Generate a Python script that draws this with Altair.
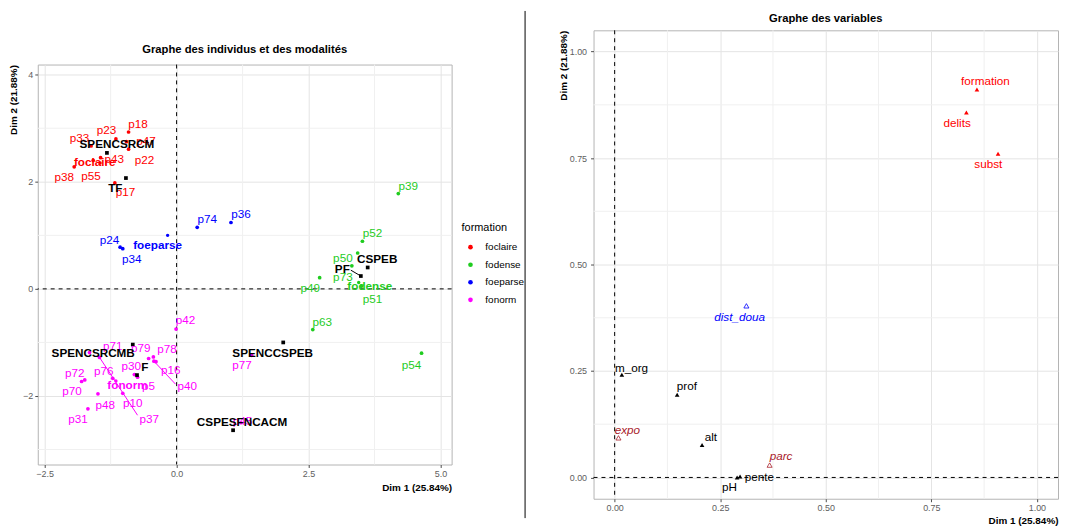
import altair as alt
import pandas as pd

FONT = "Liberation Sans"

# ---------------- Left panel: individuals and categories ----------------
ind_names = ["p18", "p23", "p33", "p47", "p22", "p43", "p38", "p55", "p17",
             "p74", "p36", "p24", "p34",
             "p39", "p52", "p50", "p73", "p49", "p51", "p63", "p54",
             "p42", "p79", "p78", "p16", "p40", "p30", "p5", "p76", "p72", "p70",
             "p48", "p31", "p10", "p37", "p71", "p77", "p45"]
ind_x = [-0.91, -1.15, -1.62, -0.95, -0.91, -1.44, -1.94, -1.58, -1.17,
         0.39, 1.03, -1.07, -1.02,
         4.20, 3.52, 3.43, 3.32, 2.71, 3.50, 2.58, 4.64,
         -0.01, -0.53, -0.44, -0.39, -0.43, -0.74, -0.80, -1.21, -1.74, -1.80,
         -1.49, -1.68, -1.02, -1.46, -1.65, 1.42, 1.22]
ind_y = [2.93, 2.80, 2.67, 2.75, 2.61, 2.45, 2.28, 2.40, 1.98,
         1.15, 1.24, 0.78, 0.75,
         1.78, 0.89, 0.67, 0.43, 0.21, 0.05, -0.76, -1.20,
         -0.75, -1.30, -1.27, -1.36, -1.35, -1.65, -1.60, -1.67, -1.70, -1.73,
         -1.96, -2.24, -1.95, -1.28, -1.19, -1.24, -2.50]
ind_lx = [-0.73, -1.33, -1.84, -0.58, -0.61, -1.18, -2.13, -1.62, -0.97,
          0.58, 1.22, -1.27, -0.85,
          4.39, 3.71, 3.15, 3.15, 2.53, 3.71, 2.76, 4.45,
          0.17, -0.68, -0.18, -0.11, 0.20, -0.86, -0.53, -1.38, -1.93, -1.98,
          -1.35, -1.87, -0.83, -0.52, -1.21, 1.24, 1.25]
ind_ly = [3.08, 2.96, 2.81, 2.77, 2.40, 2.42, 2.09, 2.11, 1.81,
          1.31, 1.39, 0.91, 0.56,
          1.93, 1.05, 0.57, 0.22, 0.02, -0.19, -0.61, -1.43,
          -0.59, -1.11, -1.13, -1.52, -1.81, -1.44, -1.81, -1.53, -1.57, -1.91,
          -2.17, -2.44, -2.13, -2.44, -1.07, -1.43, -2.47]
ind_group = (["foclaire"] * 9 + ["foeparse"] * 4 + ["fodense"] * 8 + ["fonorm"] * 17)

formation_levels = ["foclaire", "fodense", "foeparse", "fonorm"]
formation_colors = ["#FF0000", "#1FCC1F", "#0000FF", "#FF00FF"]

mod_x = [-1.45, 3.45, -0.17, -1.15]
mod_y = [2.35, 0.12, 1.00, -1.72]
mod_lx = [-1.55, 3.66, -0.36, -0.93]
mod_ly = [2.36, 0.06, 0.81, -1.80]

cat_names = ["SPENCSRCM", "TF", "CSPEB", "PF", "SPENCCSPEB", "CSPESFNCACM", "SPENCSRCMB", "F"]
cat_x = [-1.32, -0.96, 3.62, 3.49, 2.02, 1.07, -0.83, -0.75]
cat_y = [2.54, 2.07, 0.40, 0.24, -1.00, -2.64, -1.04, -1.61]
cat_lx = [-1.13, -1.16, 3.80, 3.14, 1.82, 1.24, -1.58, -0.60]
cat_ly = [2.71, 1.88, 0.56, 0.37, -1.19, -2.48, -1.20, -1.46]

seg_group = ["fonorm", "fonorm", "black"]
seg_x = [-0.43, -1.46, 3.49]
seg_y = [-1.35, -1.28, 0.24]
seg_x2 = [-0.02, -0.74, 3.30]
seg_y2 = [-1.78, -2.36, 0.35]

left_x_ticks = [-2.5, 0.0, 2.5, 5.0]
left_y_ticks = [-2, 0, 2, 4]
left_minor_x = [-1.25, 1.25, 3.75]
left_minor_y = [-3, -1, 1, 3]

# ---------------- Right panel: variables ----------------
var_names = ["formation", "delits", "subst", "dist_doua", "m_org", "prof", "expo",
             "alt", "parc", "pente", "pH"]
var_x = [0.858, 0.833, 0.908, 0.312, 0.017, 0.148, 0.009, 0.207, 0.367, 0.297, 0.290]
var_y = [0.911, 0.857, 0.760, 0.403, 0.241, 0.194, 0.093, 0.076, 0.029, 0.002, 0.000]
var_lx = [0.878, 0.811, 0.885, 0.296, 0.040, 0.171, 0.030, 0.228, 0.394, 0.343, 0.272]
var_ly = [0.931, 0.833, 0.736, 0.376, 0.258, 0.214, 0.112, 0.096, 0.051, 0.002, -0.023]
var_type = ["quali", "quali", "quali", "supquanti", "quanti", "quanti", "supquali",
            "quanti", "supquali", "quanti", "quanti"]
type_levels = ["quanti", "quali", "supquanti", "supquali"]
type_colors = ["#000000", "#FF0000", "#0000FF", "#A8202A"]

right_ticks = [0.0, 0.25, 0.5, 0.75, 1.0]
right_minor = [0.125, 0.375, 0.625, 0.875]

zero = [0.0]

# ---------------- Build left chart ----------------
ind_df = pd.DataFrame({"name": ind_names, "x": ind_x, "y": ind_y, "g": ind_group})
ind_lab = pd.DataFrame({"name": ind_names, "x": ind_lx, "y": ind_ly, "g": ind_group})
mod_df = pd.DataFrame({"name": formation_levels, "x": mod_x, "y": mod_y, "g": formation_levels})
mod_lab = pd.DataFrame({"name": formation_levels, "x": mod_lx, "y": mod_ly, "g": formation_levels})
cat_df = pd.DataFrame({"name": cat_names, "x": cat_x, "y": cat_y})
cat_lab = pd.DataFrame({"name": cat_names, "x": cat_lx, "y": cat_ly})
seg_df = pd.DataFrame({"x": seg_x, "y": seg_y, "x2": seg_x2, "y2": seg_y2, "sg": seg_group})

LW, LH = 417, 403
lxs = alt.Scale(domain=[-2.63, 5.21], nice=False, zero=False)
lys = alt.Scale(domain=[-3.28, 4.19], nice=False, zero=False)
color_scale = alt.Scale(domain=formation_levels, range=formation_colors)

lX = alt.X("x:Q", scale=lxs, axis=alt.Axis(values=left_x_ticks, format=".1f", title="Dim 1 (25.84%)",
                                           titleAnchor="end", titlePadding=4))
lY = alt.Y("y:Q", scale=lys, axis=alt.Axis(values=left_y_ticks, format="d", title="Dim 2 (21.88%)",
                                           titleAnchor="end", titlePadding=4))

minor_lx = alt.Chart(pd.DataFrame({"x": left_minor_x})).mark_rule(color="#F0F0F0", strokeWidth=1).encode(
    x=alt.X("x:Q", scale=lxs))
minor_ly = alt.Chart(pd.DataFrame({"y": left_minor_y})).mark_rule(color="#F0F0F0", strokeWidth=1).encode(
    y=alt.Y("y:Q", scale=lys))
zero_x = alt.Chart(pd.DataFrame({"x": zero})).mark_rule(color="#000000", strokeDash=[4, 4], strokeWidth=1).encode(
    x=alt.X("x:Q", scale=lxs))
zero_y = alt.Chart(pd.DataFrame({"y": zero})).mark_rule(color="#000000", strokeDash=[4, 4], strokeWidth=1).encode(
    y=alt.Y("y:Q", scale=lys))

segs_m = alt.Chart(seg_df).transform_filter("datum.sg == 'fonorm'").mark_rule(
    strokeWidth=1, color="#FF00FF").encode(
    x=alt.X("x:Q", scale=lxs), y=alt.Y("y:Q", scale=lys), x2="x2:Q", y2="y2:Q")
segs_b = alt.Chart(seg_df).transform_filter("datum.sg == 'black'").mark_rule(
    strokeWidth=1, color="#000000").encode(
    x=alt.X("x:Q", scale=lxs), y=alt.Y("y:Q", scale=lys), x2="x2:Q", y2="y2:Q")

legend = alt.Legend(orient="none", legendX=427, legendY=159, symbolType="circle",
                    symbolSize=22, labelFontSize=10, titleFontSize=11,
                    titleFontWeight="normal", titleColor="#000000", labelColor="#000000",
                    rowPadding=7.7, titlePadding=9, labelOffset=10, symbolOffset=4,
                    titleFont=FONT, labelFont=FONT)

pts = alt.Chart(ind_df).mark_circle(size=14, opacity=1).encode(
    x=lX, y=lY,
    color=alt.Color("g:N", scale=color_scale, title="formation", legend=legend))
mod_pts = alt.Chart(mod_df).mark_circle(size=12, opacity=1).encode(
    x=alt.X("x:Q", scale=lxs), y=alt.Y("y:Q", scale=lys),
    color=alt.Color("g:N", scale=color_scale, title="formation", legend=legend))
cat_pts = alt.Chart(cat_df).mark_square(size=14, opacity=1, color="#000000").encode(
    x=alt.X("x:Q", scale=lxs), y=alt.Y("y:Q", scale=lys))

ind_txt = alt.Chart(ind_lab).mark_text(font=FONT, fontSize=11.8).encode(
    x=alt.X("x:Q", scale=lxs), y=alt.Y("y:Q", scale=lys), text="name:N",
    color=alt.Color("g:N", scale=color_scale, title="formation", legend=legend))
mod_txt = alt.Chart(mod_lab).mark_text(font=FONT, fontSize=11.8, fontWeight="bold").encode(
    x=alt.X("x:Q", scale=lxs), y=alt.Y("y:Q", scale=lys), text="name:N",
    color=alt.Color("g:N", scale=color_scale, title="formation", legend=legend))
cat_txt = alt.Chart(cat_lab).mark_text(font=FONT, fontSize=11.8, fontWeight="bold", color="#000000").encode(
    x=alt.X("x:Q", scale=lxs), y=alt.Y("y:Q", scale=lys), text="name:N")

left = alt.layer(minor_lx, minor_ly, zero_x, zero_y, segs_m, segs_b, pts, mod_pts, cat_pts,
                 ind_txt, mod_txt, cat_txt).properties(
    width=LW, height=LH,
    title=alt.TitleParams("Graphe des individus et des modalités", fontSize=11.3, fontWeight="bold",
                          font=FONT, color="#000000", offset=9, anchor="middle", frame="group"))

# ---------------- Divider between the two panels ----------------
divider = alt.Chart(pd.DataFrame({"x": zero})).mark_rule(color="#000000", strokeWidth=1).encode(
    x=alt.value(74)).properties(width=143, height=511, view=alt.ViewBackground(strokeOpacity=0))

# ---------------- Build right chart ----------------
var_df = pd.DataFrame({"name": var_names, "x": var_x, "y": var_y, "t": var_type})
var_lab = pd.DataFrame({"name": var_names, "x": var_lx, "y": var_ly, "t": var_type})
RW, RH = 468, 472
rxs = alt.Scale(domain=[-0.05, 1.05], nice=False, zero=False)
rys = alt.Scale(domain=[-0.05, 1.05], nice=False, zero=False)
tcol = alt.Scale(domain=type_levels, range=type_colors)

rX = alt.X("x:Q", scale=rxs, axis=alt.Axis(values=right_ticks, format=".2f", title="Dim 1 (25.84%)",
                                           titleAnchor="end", titlePadding=3))
rY = alt.Y("y:Q", scale=rys, axis=alt.Axis(values=right_ticks, format=".2f", title="Dim 2 (21.88%)",
                                           titleAnchor="end", titlePadding=1, labelPadding=4))

rminor_x = alt.Chart(pd.DataFrame({"x": right_minor})).mark_rule(color="#F0F0F0", strokeWidth=1).encode(
    x=alt.X("x:Q", scale=rxs))
rminor_y = alt.Chart(pd.DataFrame({"y": right_minor})).mark_rule(color="#F0F0F0", strokeWidth=1).encode(
    y=alt.Y("y:Q", scale=rys))
rzero_x = alt.Chart(pd.DataFrame({"x": zero})).mark_rule(color="#000000", strokeDash=[4, 4], strokeWidth=1).encode(
    x=alt.X("x:Q", scale=rxs))
rzero_y = alt.Chart(pd.DataFrame({"y": zero})).mark_rule(color="#000000", strokeDash=[4, 4], strokeWidth=1).encode(
    y=alt.Y("y:Q", scale=rys))

filled_tri = alt.Chart(var_df).transform_filter(
    "datum.t == 'quanti' || datum.t == 'quali'").mark_point(
    shape="triangle-up", filled=True, size=22, opacity=1).encode(
    x=rX, y=rY, color=alt.Color("t:N", scale=tcol, legend=None))
hollow_tri = alt.Chart(var_df).transform_filter(
    "datum.t == 'supquanti' || datum.t == 'supquali'").mark_point(
    shape="triangle-up", filled=False, size=26, strokeWidth=0.8, opacity=1).encode(
    x=alt.X("x:Q", scale=rxs), y=alt.Y("y:Q", scale=rys), color=alt.Color("t:N", scale=tcol, legend=None))

plain_txt = alt.Chart(var_lab).transform_filter(
    "datum.t == 'quanti' || datum.t == 'quali'").mark_text(font=FONT, fontSize=11.8).encode(
    x=alt.X("x:Q", scale=rxs), y=alt.Y("y:Q", scale=rys), text="name:N",
    color=alt.Color("t:N", scale=tcol, legend=None))
ital_txt = alt.Chart(var_lab).transform_filter(
    "datum.t == 'supquanti' || datum.t == 'supquali'").mark_text(font=FONT, fontSize=11.8, fontStyle="italic").encode(
    x=alt.X("x:Q", scale=rxs), y=alt.Y("y:Q", scale=rys), text="name:N",
    color=alt.Color("t:N", scale=tcol, legend=None))

right = alt.layer(rminor_x, rminor_y, rzero_x, rzero_y, filled_tri, hollow_tri, plain_txt, ital_txt).properties(
    width=RW, height=RH,
    title=alt.TitleParams("Graphe des variables", fontSize=11.3, fontWeight="bold",
                          font=FONT, color="#000000", offset=6, anchor="middle", frame="group"))

chart = alt.hconcat(left, divider, right, spacing=0, bounds="flush", center=True).resolve_scale(
    x="independent", y="independent", color="independent").properties(
    padding={"left": 0, "top": 0, "right": 0, "bottom": 0}
).configure_view(stroke="#B3B3B3", strokeWidth=1).configure_axis(
    domain=False, tickColor="#4D4D4D", tickSize=3, labelPadding=2, labelColor="#5E5E5E",
    labelFontSize=9, labelFont=FONT, titleFont=FONT, titleFontSize=10, titleFontWeight="bold",
    titleColor="#000000", gridColor="#E4E4E4", gridWidth=1
)

chart.save("out.html", embed_options={"renderer": "svg", "actions": False})
